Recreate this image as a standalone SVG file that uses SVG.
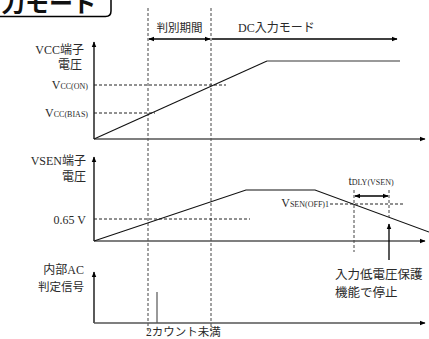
<svg xmlns="http://www.w3.org/2000/svg" width="429" height="339" viewBox="0 0 429 339">
<style>
.t{font-family:"Liberation Serif","Noto Sans CJK JP",serif;font-size:12px;fill:#2a2a2a}
.j{font-family:"Noto Sans CJK JP","Liberation Sans",sans-serif;font-size:11.5px;fill:#2a2a2a}
.sub{font-size:8px}
.ax{stroke:#000;stroke-width:1.3;fill:none}
.hx{stroke:#555;stroke-width:1.5;fill:none}
.dv{stroke:#444;stroke-width:1;stroke-dasharray:3 2;fill:none}
.dh{stroke:#222;stroke-width:1;stroke-dasharray:3 2;fill:none}
.sig{stroke:#111;stroke-width:1.1;fill:none}
</style>
<defs>
<marker id="ah" viewBox="0 0 10 10" refX="9" refY="5" markerWidth="6" markerHeight="6" orient="auto-start-reverse" markerUnits="userSpaceOnUse">
<path d="M0,1 L10,5 L0,9 Z" fill="#000"/>
</marker>
</defs>
<g id="title">
<path d="M-2,16.5 L105.5,16.5 Q111,16.5 111,11 L111,-2" fill="#fff" stroke="#000" stroke-width="1.5"/>
<text x="1" y="11.5" style="font-family:'Noto Sans CJK JP',sans-serif;font-size:24px;font-weight:bold;fill:#111">力モード</text>
</g>
<g id="connectors">
<line class="dv" x1="148" y1="8" x2="148" y2="332"/>
<line class="dv" x1="211" y1="8" x2="211" y2="332"/>
<line class="ax" x1="149" y1="39" x2="210" y2="39" marker-start="url(#ah)" marker-end="url(#ah)"/>
<line class="ax" x1="212" y1="39" x2="397" y2="39" marker-end="url(#ah)"/>
<line class="ax" x1="94" y1="139" x2="94" y2="42" marker-end="url(#ah)"/>
<line class="hx" x1="94" y1="139" x2="425" y2="139" marker-end="url(#ah)"/>
<line class="dh" x1="94" y1="85" x2="226" y2="85"/>
<line class="dh" x1="94" y1="113" x2="155" y2="113" stroke="#666" stroke-width="1.5"/>
<polyline class="sig" points="94,139 267,61"/>
<line x1="267" y1="61" x2="400" y2="61" stroke="#777" stroke-width="1.6"/>
<line class="ax" x1="94" y1="241" x2="94" y2="157" marker-end="url(#ah)"/>
<line class="hx" x1="94" y1="241" x2="425" y2="241" marker-end="url(#ah)"/>
<line class="dh" x1="94" y1="219" x2="250" y2="219"/>
<polyline class="sig" points="94,241 246,190 315,190 429,232"/>
<line class="dh" x1="330" y1="204" x2="403" y2="204"/>
<line class="dv" x1="354" y1="190" x2="354" y2="252"/>
<line class="dv" x1="389" y1="190" x2="389" y2="217"/>
<line class="ax" x1="355" y1="196" x2="388" y2="196" marker-start="url(#ah)" marker-end="url(#ah)"/>
<line class="ax" x1="389" y1="260" x2="389" y2="224" marker-end="url(#ah)"/>
<line class="ax" x1="94" y1="323" x2="94" y2="272" marker-end="url(#ah)"/>
<line class="hx" x1="94" y1="323" x2="425" y2="323" marker-end="url(#ah)"/>
<line x1="157" y1="292" x2="157" y2="323" stroke="#555" stroke-width="1.2"/>
</g>
<g id="labels">
<text class="j" x="179.5" y="32" text-anchor="middle">判別期間</text>
<text class="t" x="238" y="32">DC入力モード</text>
<text class="t" x="84" y="54" text-anchor="end">VCC端子</text>
<text class="t" x="82" y="69" text-anchor="end">電圧</text>
<text class="t" x="88" y="89" text-anchor="end">V<tspan class="sub">CC(ON)</tspan></text>
<text class="t" x="88" y="117" text-anchor="end">V<tspan class="sub">CC(BIAS)</tspan></text>
<text class="t" x="86" y="165" text-anchor="end">VSEN端子</text>
<text class="t" x="86" y="181" text-anchor="end">電圧</text>
<text class="t" x="86" y="224" text-anchor="end">0.65 V</text>
<text class="t" x="329" y="207" text-anchor="end">V<tspan class="sub">SEN(OFF)1</tspan></text>
<text class="t" x="371" y="185" text-anchor="middle">t<tspan class="sub">DLY(VSEN)</tspan></text>
<text class="j" x="335" y="279" style="font-size:12.5px">入力低電圧保護</text>
<text class="j" x="335" y="297" style="font-size:12.5px">機能で停止</text>
<text class="t" x="84" y="274" text-anchor="end">内部AC</text>
<text class="j" x="84" y="291" text-anchor="end">判定信号</text>
<text class="t" x="146" y="336" style="font-size:11.5px">2カウント未満</text>
</g>
</svg>
